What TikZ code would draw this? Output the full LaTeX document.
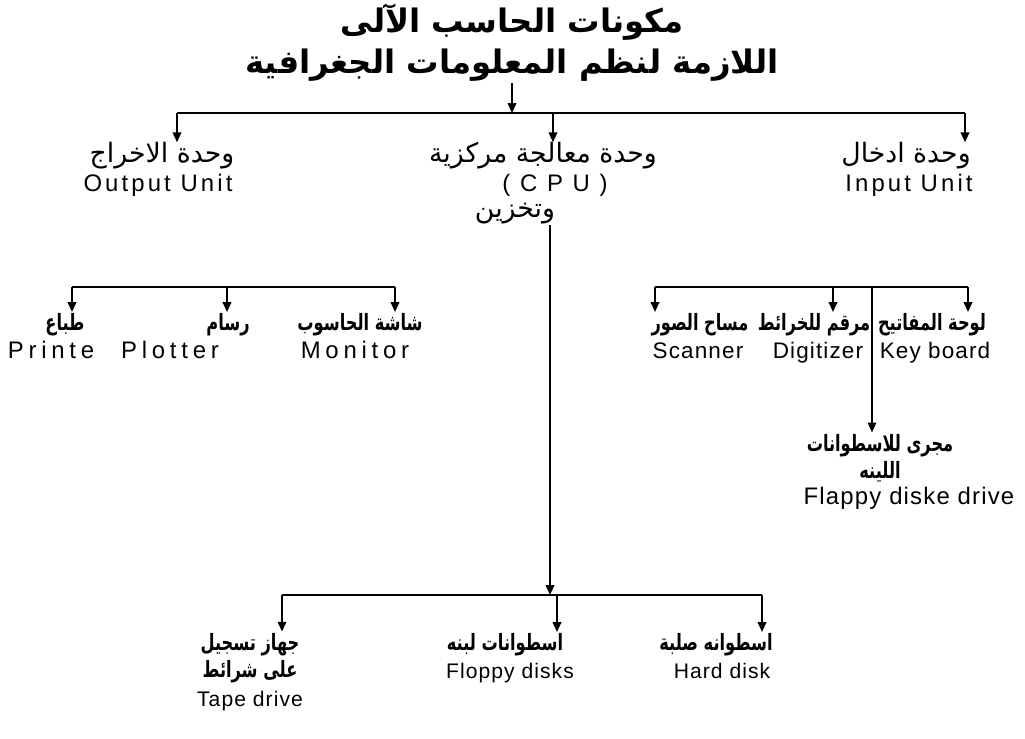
\documentclass[tikz,border=0pt]{standalone}
\usepackage{fontspec}
\setmainfont{Liberation Sans}
\newfontfamily\arabicfont[Script=Arabic]{DejaVu Sans}
\newfontfamily\arabicnarrow[Script=Arabic,FakeStretch=0.72]{DejaVu Sans}
\newfontfamily\latinwide[LetterSpace=20]{Liberation Sans}
\newfontfamily\latinmid[LetterSpace=13]{Liberation Sans}
\newfontfamily\latintight[LetterSpace=5]{Liberation Sans}
\TeXXeTstate=1
\usetikzlibrary{positioning,arrows.meta}

\begin{document}
\begin{tikzpicture}[x=0.025cm,y=-0.025cm,
   ttl/.style={inner sep=1pt, align=center,
               font=\arabicfont\bfseries\fontsize{23}{29}\selectfont},
   arbig/.style={inner sep=0pt, align=center,
                 font=\arabicfont\fontsize{19}{22}\selectfont},
   ar/.style={inner sep=1pt, align=center,
              font=\arabicnarrow\bfseries\fontsize{16}{19}\selectfont},
   entext/.style={inner sep=1pt, text height=0.72em, text depth=0.2em},
   enunit/.style={entext, font=\latinmid\fontsize{17}{20}\selectfont},
   enwide/.style={entext, font=\latinwide\fontsize{17}{20}\selectfont},
   en/.style={entext, font=\latintight\fontsize{16}{20}\selectfont},
   ensmall/.style={entext, font=\latintight\fontsize{15}{20}\selectfont},
   bar/.style={line width=1.8pt},
   arr/.style={line width=1.4pt, -{Triangle[length=7pt,width=6pt]}},
   thinarr/.style={line width=0.8pt, -{Triangle[length=7pt,width=6pt]}}]
  \useasboundingbox (0,0) rectangle (1025,738);

  % title
  \node[ttl] (title) at (512,43) {\beginR مكونات الحاسب الآلى\endR\\
    \beginR اللازمة لنظم المعلومات الجغرافية\endR};

  % main units
  \node[arbig] (outA) at (162,156) {\beginR وحدة الاخراج\endR};
  \node[enunit] (outE) at (158,188) {Output Unit};
  \node[arbig] (cpuA) at (543,156) {\beginR وحدة معالجة مركزية\endR};
  \node[enunit] (cpuE) at (555,188) {( C P U )};
  \node[arbig] (cpuB) at (515,214) {\beginR وتخزين\endR};
  \node[arbig] (inA) at (906,156) {\beginR وحدة ادخال\endR};
  \node[enunit] (inE) at (909,188) {Input Unit};

  % output devices
  \node[ar] (prA) at (65,325) {\beginR طباع\endR};
  \node[enwide] (prE) at (51,355) {Printe};
  \node[ar] (plA) at (228,325) {\beginR رسام\endR};
  \node[enwide] (plE) at (170,355) {Plotter};
  \node[ar] (moA) at (360,325) {\beginR شاشة الحاسوب\endR};
  \node[enwide] (moE) at (355,355) {Monitor};

  % input devices
  \node[ar] (scA) at (700,325) {\beginR مساح الصور\endR};
  \node[en] (scE) at (698,355) {Scanner};
  \node[ar] (diA) at (814,325) {\beginR مرقم للخرائط\endR};
  \node[en] (diE) at (818,355) {Digitizer};
  \node[ar] (kbA) at (932,325) {\beginR لوحة المفاتيح\endR};
  \node[en] (kbE) at (935,355) {Key board};
  \node[ar] (flA) at (880,458) {\beginR مجرى للاسطوانات\endR\\ \beginR اللينه\endR};
  \node[en, font=\latintight\fontsize{17}{20}\selectfont] (flE) at (909,501) {Flappy diske drive};

  % storage
  \node[ar] (tpA) at (250,658) {\beginR جهاز تسجيل\endR\\ \beginR على شرائط\endR};
  \node[ensmall] (tpE) at (250,703) {Tape drive};
  \node[ar] (fdA) at (505,645) {\beginR اسطوانات لبنه\endR};
  \node[ensmall] (fdE) at (510,675) {Floppy disks};
  \node[ar] (hdA) at (716,645) {\beginR اسطوانه صلبة\endR};
  \node[ensmall] (hdE) at (722,675) {Hard disk};

  % bar junctions
  \coordinate (tL) at (177,113);
  \coordinate (tM) at (553,113);
  \coordinate (tR) at (965,113);
  \coordinate (oL) at (72,287);
  \coordinate (oM) at (227,287);
  \coordinate (oR) at (395,287);
  \coordinate (iL) at (655,287);
  \coordinate (iM) at (833,287);
  \coordinate (iV) at (872,287);
  \coordinate (iR) at (968,287);
  \coordinate (bL) at (282,595);
  \coordinate (bV) at (550,595);
  \coordinate (bM) at (557,595);
  \coordinate (bR) at (762,595);

  % connectors
  \draw[arr] (title.south) -- (title.south |- tL);
  \draw[bar] (tL) -- (tR);
  \draw[arr] (tL) -- (tL |- outA.north);
  \draw[arr] (tM) -- (tM |- cpuA.north);
  \draw[arr] (tR) -- (tR |- inA.north);

  \draw[bar] (oL) -- (oR);
  \draw[arr] (oL) -- (oL |- prA.north);
  \draw[arr] (oM) -- (oM |- plA.north);
  \draw[arr] (oR) -- (oR |- moA.north);

  \draw[bar] (iL) -- (iR);
  \draw[arr] (iL) -- (iL |- scA.north);
  \draw[arr] (iM) -- (iM |- diA.north);
  \draw[arr] (iR) -- (iR |- kbA.north);
  \draw[thinarr] (iV) -- (iV |- flA.north);

  \draw[arr] (bV |- cpuB.south) -- (bV);
  \draw[bar] (bL) -- (bR);
  \draw[arr] (bL) -- (bL |- tpA.north);
  \draw[arr] (bM) -- (bM |- fdA.north);
  \draw[arr] (bR) -- (bR |- hdA.north);
\end{tikzpicture}
\end{document}
